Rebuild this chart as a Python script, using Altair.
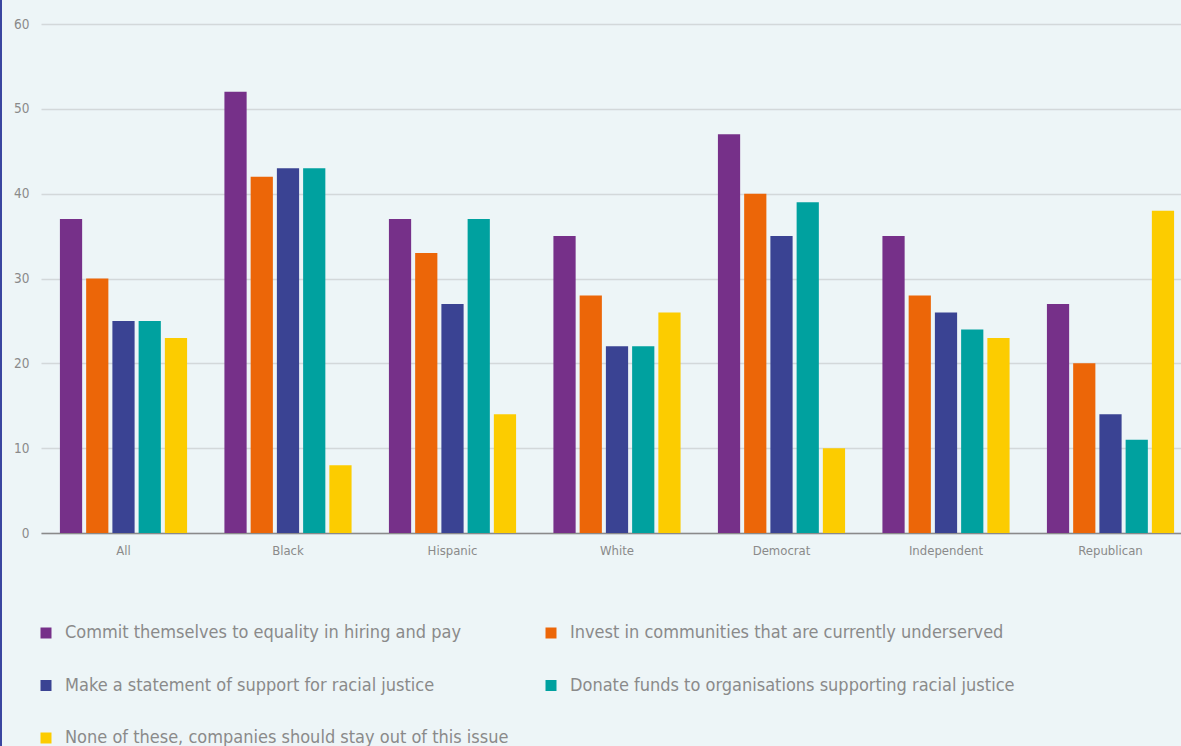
import altair as alt
import pandas as pd

groups = ["All", "Black", "Hispanic", "White", "Democrat", "Independent", "Republican"]
series = [
    "Commit themselves to equality in hiring and pay",
    "Invest in communities that are currently underserved",
    "Make a statement of support for racial justice",
    "Donate funds to organisations supporting racial justice",
    "None of these, companies should stay out of this issue",
]
colors = ["#763089", "#ec6608", "#3a4393", "#00a19f", "#fccc00"]
values = {
    series[0]: [37, 52, 37, 35, 47, 35, 27],
    series[1]: [30, 42, 33, 28, 40, 28, 20],
    series[2]: [25, 43, 27, 22, 35, 26, 14],
    series[3]: [25, 43, 37, 22, 39, 24, 11],
    series[4]: [23, 8, 14, 26, 10, 23, 38],
}

rows = []
for s in series:
    for g, v in zip(groups, values[s]):
        rows.append({"group": g, "series": s, "value": v})
df = pd.DataFrame(rows)

# legend fills column by column: reorder so it reads row by row like the reference
legend_order = [0, 2, 4, 1, 3]
legend_domain = [series[i] for i in legend_order]
legend_range = [colors[i] for i in legend_order]

FONT = "DejaVu Sans Condensed, Liberation Sans Narrow, Roboto, sans-serif"

bars = alt.Chart(df).mark_bar().encode(
    x=alt.X("group:N", sort=groups, title=None,
            scale=alt.Scale(paddingInner=0.227, paddingOuter=0.115, range=[0, 1152]),
            axis=alt.Axis(labelAngle=0, ticks=False, domain=True, domainColor="#8a8a8a",
                          domainWidth=1.5, labelColor="#8a8a8a", labelFontSize=13,
                          labelFont=FONT, labelPadding=11, grid=False)),
    xOffset=alt.XOffset("series:N", sort=series,
                        scale=alt.Scale(paddingInner=0.153, paddingOuter=0)),
    y=alt.Y("value:Q", title=None,
            scale=alt.Scale(domain=[0, 60]),
            axis=alt.Axis(values=[0, 10, 20, 30, 40, 50, 60], ticks=False, domain=False,
                          labelColor="#8a8a8a", labelFontSize=13.5, labelFont=FONT,
                          labelPadding=12, gridColor="#d3d8da", gridWidth=1.5)),
    color=alt.Color("series:N",
                    scale=alt.Scale(domain=legend_domain, range=legend_range),
                    legend=alt.Legend(title=None, orient="none", legendX=-4, legendY=600,
                                      columns=2, columnPadding=33, rowPadding=34.5,
                                      symbolType="square", symbolSize=121,
                                      symbolStrokeWidth=0, symbolOpacity=1,
                                      labelFontSize=18, labelFont=FONT,
                                      labelColor="#8a8a8a", labelOffset=10,
                                      labelLimit=600)),
)

border = alt.Chart(pd.DataFrame({"a": [0]})).mark_rule(color="#3a46a0", strokeWidth=2).encode(
    x=alt.value(-40), y=alt.value(-30), y2=alt.value(760)
)

chart = alt.layer(bars, border).properties(
    width=1140, height=509,
    background="#edf5f7",
    autosize=alt.AutoSizeParams(type="none"),
    padding={"left": 41, "top": 24, "right": 0, "bottom": 213},
).configure_view(stroke=None)

chart.save("out.html", embed_options={"renderer": "svg", "actions": False})
